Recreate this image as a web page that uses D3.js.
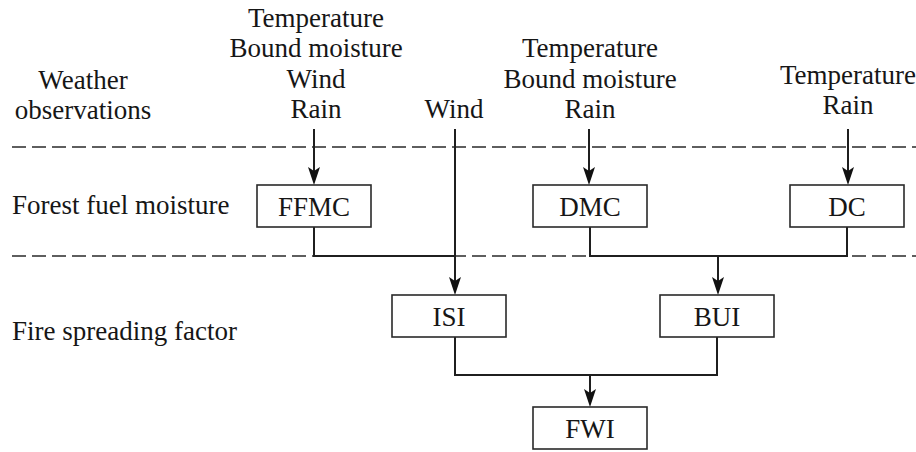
<!DOCTYPE html>
<html>
<head>
<meta charset="utf-8">
<script src="https://cdn.jsdelivr.net/npm/d3@7"></script>
<style>
  html, body { margin: 0; padding: 0; background: #fff; }
  svg { display: block; }
</style>
</head>
<body>
<svg id="chart" width="916" height="452"></svg>
<script>
// ---- content ----
const levelLabels = [["Weather", "observations"], ["Forest fuel moisture"], ["Fire spreading factor"]];
const nodeNames = ["FFMC", "DMC", "DC", "ISI", "BUI", "FWI"];
const nodeColumns = [0, 2, 4, 1, 3, 2];   // column index of each node
const nodeRows = [1, 1, 1, 2, 2, 3];      // row index of each node
const inputGroups = [
  ["Temperature", "Bound moisture", "Wind", "Rain"],
  ["Wind"],
  ["Temperature", "Bound moisture", "Rain"],
  ["Temperature", "Rain"]
];
const inputTargets = ["FFMC", "ISI", "DMC", "DC"];
const merges = [
  { from: ["FFMC"], to: "ISI", via: "Wind" },
  { from: ["DMC", "DC"], to: "BUI" },
  { from: ["ISI", "BUI"], to: "FWI" }
];

// ---- layout ----
const FONT = "'Liberation Serif', 'Times New Roman', Times, 'DejaVu Serif', serif";
const svg = d3.select("#chart");
const W = 916, H = 452;
const colX = d3.scaleOrdinal().domain([0, 1, 2, 3, 4]).range([314, 449, 590, 717, 847]);
const rowY = d3.scaleOrdinal().domain([1, 2, 3]).range([206, 316, 428]); // box centres
const boxW = 114, boxH = 42;
const fs = 27;
const stroke = "#1f1f1f";
const txtFill = "#161616";

svg.append("rect").attr("width", W).attr("height", H).attr("fill", "#fff");

// dashed separators
const sepY = [147, 256];
svg.selectAll("line.sep").data(sepY).join("line")
  .attr("class", "sep")
  .attr("x1", 12).attr("x2", W).attr("y1", d => d).attr("y2", d => d)
  .attr("stroke", "#2a2a2a").attr("stroke-width", 1.6)
  .attr("stroke-dasharray", "14,6");

// node lookup
const nodes = nodeNames.map((n, i) => ({
  name: n, x: colX(nodeColumns[i]), y: rowY(nodeRows[i])
}));
const N = Object.fromEntries(nodes.map(d => [d.name, d]));
const ISIline = 455;

function label(sel) {
  return sel.attr("font-family", FONT).attr("font-size", fs).attr("fill", txtFill);
}
function vline(x, y1, y2) {
  svg.append("line").attr("x1", x).attr("x2", x).attr("y1", y1).attr("y2", y2)
    .attr("stroke", stroke).attr("stroke-width", 2);
}
function arrowDown(x, y1, y2) {
  const L = 18, hw = 6;
  vline(x, y1, y2 - L + 4);
  const p = d3.path();
  p.moveTo(x, y2); p.lineTo(x - hw, y2 - L); p.lineTo(x, y2 - L + 4); p.lineTo(x + hw, y2 - L); p.closePath();
  svg.append("path").attr("d", p.toString()).attr("fill", "#111");
}

// level labels on the left
label(svg.append("text").attr("text-anchor", "middle"))
  .selectAll("tspan").data(levelLabels[0]).join("tspan")
  .attr("x", 83).attr("y", (d, i) => 89 + i * 30).text(d => d);
label(svg.append("text")).attr("x", 12).attr("y", 214).text(levelLabels[1][0]);
label(svg.append("text")).attr("x", 12).attr("y", 340).text(levelLabels[2][0]);

// input labels (bottom-aligned stacks)
const inputX = { FFMC: 316, ISI: 454, DMC: 590, DC: 848 };
const inputBottom = { FFMC: 118, ISI: 118, DMC: 118, DC: 114 };
const arrowX = { FFMC: 314, ISI: ISIline, DMC: 589, DC: 848 };
inputGroups.forEach((lines, gi) => {
  const t = inputTargets[gi];
  const n = lines.length;
  label(svg.append("text").attr("text-anchor", "middle"))
    .selectAll("tspan").data(lines).join("tspan")
    .attr("x", inputX[t]).attr("y", (d, i) => inputBottom[t] - (n - 1 - i) * 30.3)
    .text(d => d);
  arrowDown(arrowX[t], 129, N[t].y - boxH / 2);
});

// connectors
const busY = { ISI: 256, BUI: 256, FWI: 375 };
const outX = d => d.name === "ISI" ? ISIline : d.x;
merges.forEach(m => {
  const by = busY[m.to];
  const tgt = N[m.to];
  const xs = m.from.map(f => outX(N[f]));
  m.from.forEach(f => vline(outX(N[f]), N[f].y + boxH / 2, by + 1));
  const tx = m.to === "ISI" ? ISIline : (m.to === "BUI" ? 718 : tgt.x);
  const allX = xs.concat([tx]);
  svg.append("line").attr("x1", d3.min(allX) - 1).attr("x2", d3.max(allX) + 1)
    .attr("y1", by).attr("y2", by)
    .attr("stroke", stroke).attr("stroke-width", 2);
  if (!m.via) arrowDown(tx, by, tgt.y - boxH / 2);
});

// boxes
const g = svg.selectAll("g.node").data(nodes).join("g").attr("class", "node");
g.append("rect")
  .attr("x", d => d.x - boxW / 2).attr("y", d => d.y - boxH / 2)
  .attr("width", boxW).attr("height", boxH)
  .attr("fill", "#fff").attr("stroke", "#2a2a2a").attr("stroke-width", 1.6);
label(g.append("text").attr("text-anchor", "middle"))
  .attr("x", d => d.x).attr("y", d => d.y + 9.5).text(d => d.name);
</script>
</body>
</html>
